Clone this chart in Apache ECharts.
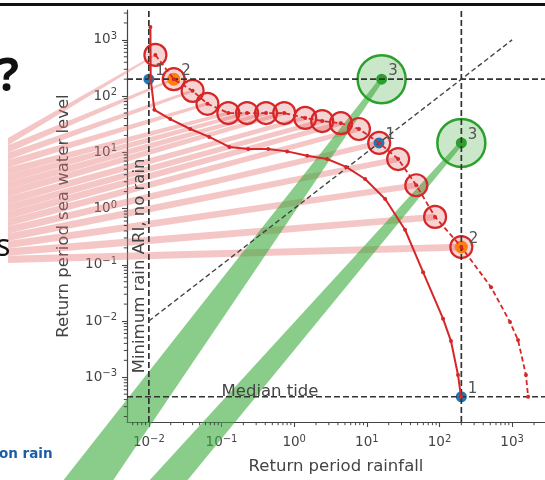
<!DOCTYPE html>
<html><head><meta charset="utf-8">
<script src="https://cdn.jsdelivr.net/npm/echarts@6/dist/echarts.min.js"></script>
<style>html,body{margin:0;padding:0;background:#fff}#c{width:545px;height:480px}</style>
</head><body><div id="c"></div>
<script>
// ---- data ----
const xTicks = [0.01, 0.1, 1, 10, 100, 1000];
const yTicks = [0.001, 0.01, 0.1, 1, 10, 100, 1000];
const xTitle = 'Return period rainfall';
const yTitle = 'Return period sea water level';
// big red circles, joined by a dashed line
const circleX = [0.0123, 0.022, 0.040, 0.064, 0.124, 0.225, 0.41, 0.73, 1.42, 2.43, 4.4, 7.8, 14.8, 27, 48, 87, 200];
const circleY = [540, 200, 124, 73, 50, 50, 50, 50, 41, 36, 33, 26, 14.7, 7.6, 2.6, 0.71, 0.207];
// continuation of the dashed curve below the last circle
const tailX = [513, 935, 1205, 1550, 1660];
const tailY = [0.040, 0.0096, 0.0046, 0.0011, 0.00045];
// solid red curve
const curveX = [0.0105, 0.0106, 0.0119, 0.0197, 0.0371, 0.0677, 0.128, 0.233, 0.439, 0.80, 1.51, 2.84, 5.19, 9.48, 17.9, 33.6, 59.5, 112, 144, 180, 198];
const curveY = [1700, 200, 57, 39, 26, 18.8, 12.5, 11.5, 11.5, 10.4, 8.7, 7.6, 5.5, 3.36, 1.48, 0.42, 0.074, 0.011, 0.0044, 0.0011, 0.00045];
// labelled points
const blueX = [0.01, 14.7, 200], blueY = [200, 14.7, 0.00045], blueLab = ['1', '1', '1'];
const orangeX = [0.022, 200], orangeY = [200, 0.207], orangeLab = ['2', '2'];
const greenX = [16, 200], greenY = [200, 14.7], greenLab = ['3', '3'];
// reference levels
const minRainRP = 0.01, designRP = 200, medianTide = 0.00045;
const diagFrom = 0.01, diagTo = 1000;
const medianText = 'Median tide';
const minRainText = 'Minimum rain ARI, no rain';

// ---- chart ----
const X_MIN = 0.005, X_MAX = 2835, Y_MIN = 1.6e-4, Y_MAX = 3400;
const FONT = 'DejaVu Sans', AX = '#444', TXT = '#444';
const zip = (a, b) => a.map((v, i) => [v, b[i]]);
function minorOf(lo, hi) {
  const out = [];
  for (let d = -5; d <= 4; d++) for (let k = 2; k <= 9; k++) {
    const v = +(k * Math.pow(10, d)).toPrecision(3);
    if (v > lo && v < hi) out.push(v);
  }
  return out;
}
function powLabel(v) {
  const e = Math.round(Math.log10(v));
  return '10{s|' + (e < 0 ? '\u2212' + (-e) : String(e)) + '}';
}
const rich = { s: { fontSize: 10, fontFamily: FONT, color: TXT, verticalAlign: 'top', lineHeight: 10 } };
const dash = { color: '#333', width: 1.7, type: [6, 3] };

function axisOf(isX, ticks, lo, hi) {
  return {
    type: 'log', logBase: 10, min: lo, max: hi,
    position: isX ? 'bottom' : 'left',
    name: isX ? xTitle : yTitle, nameLocation: 'middle', nameGap: isX ? 36 : 55,
    nameTextStyle: { fontFamily: FONT, fontSize: 16.5, color: TXT },
    axisLine: { show: true, onZero: false, lineStyle: { color: AX, width: 1.2 } },
    axisTick: { show: true, length: 5, customValues: ticks, lineStyle: { color: AX, width: 1.1 } },
    axisLabel: { customValues: ticks, formatter: powLabel, rich: rich, fontFamily: FONT, fontSize: 13.5, color: TXT, margin: isX ? 12 : 10, lineHeight: 17 },
    splitLine: { show: false }, minorTick: { show: false }
  };
}

const pointLabel = (names) => ({
  show: true, position: 'right', distance: 1, offset: [0, -8],
  formatter: p => names[p.dataIndex], fontFamily: FONT, fontSize: 15, color: '#555'
});

const chart = echarts.init(document.getElementById('c'));
chart.setOption({
  animation: false,
  grid: { left: 127, top: 10, right: 0, bottom: 58, containLabel: false, outerBoundsMode: 'none' },
  xAxis: axisOf(true, xTicks, X_MIN, X_MAX),
  yAxis: axisOf(false, yTicks, Y_MIN, Y_MAX),
  series: [
    { type: 'line', silent: true, symbol: 'none', lineStyle: dash, data: [[minRainRP, Y_MIN], [minRainRP, Y_MAX]] },
    { type: 'line', silent: true, symbol: 'none', lineStyle: dash, data: [[designRP, Y_MIN], [designRP, Y_MAX]] },
    { type: 'line', silent: true, symbol: 'none', lineStyle: dash, data: [[X_MIN, designRP], [X_MAX, designRP]] },
    { type: 'line', silent: true, symbol: 'none', lineStyle: dash, data: [[X_MIN, medianTide], [X_MAX, medianTide]] },
    { type: 'line', silent: true, symbol: 'none', lineStyle: { color: '#444', width: 1.4, type: [5, 3] }, data: [[diagFrom, diagFrom], [diagTo, diagTo]] },
    { type: 'scatter', silent: true, symbolSize: 22, data: zip(circleX, circleY),
      itemStyle: { color: 'rgba(214,39,40,0.2)', borderColor: '#d62728', borderWidth: 2.2, opacity: 1 } },
    { type: 'scatter', silent: true, symbolSize: 11, data: zip(blueX, blueY), itemStyle: { color: '#1f77b4', opacity: 1 }, label: pointLabel(blueLab) },
    { type: 'scatter', silent: true, symbolSize: 13, data: zip(orangeX, orangeY), itemStyle: { color: '#ff7f0e', opacity: 1 }, label: pointLabel(orangeLab) },
    { type: 'line', silent: true, symbol: 'circle', symbolSize: 4, showSymbol: true, data: zip(curveX, curveY),
      lineStyle: { color: '#d62728', width: 2 }, itemStyle: { color: '#d62728' } },
    { type: 'line', silent: true, symbol: 'circle', symbolSize: 4, showSymbol: true, data: zip(circleX.concat(tailX), circleY.concat(tailY)),
      lineStyle: { color: '#d62728', width: 1.8, type: [5, 3] }, itemStyle: { color: '#d62728' } },
    { type: 'scatter', silent: true, symbolSize: 48, data: zip(greenX, greenY),
      itemStyle: { color: 'rgba(44,160,44,0.25)', borderColor: '#2ca02c', borderWidth: 2.5, opacity: 1 } },
    { type: 'scatter', silent: true, symbolSize: 11, data: zip(greenX, greenY), itemStyle: { color: '#2ca02c', opacity: 1 }, label: pointLabel(greenLab) }
  ]
});

// ---- overlays placed with the chart's own scales ----
const P = (x, y) => chart.convertToPixel({ xAxisIndex: 0, yAxisIndex: 0 }, [x, y]);
const g = [];
// minor (2..9 x 10^n) log ticks
minorOf(X_MIN, X_MAX).forEach(v => {
  const p = P(v, Y_MIN);
  g.push({ type: 'line', silent: true, z: 5, shape: { x1: p[0], y1: p[1], x2: p[0], y2: p[1] + 3.2 }, style: { stroke: AX, lineWidth: 1 } });
});
minorOf(Y_MIN, Y_MAX).forEach(v => {
  const p = P(X_MIN, v);
  g.push({ type: 'line', silent: true, z: 5, shape: { x1: p[0], y1: p[1], x2: p[0] - 3.2, y2: p[1] }, style: { stroke: AX, lineWidth: 1 } });
});
// pink fan from the slide's side box to each circle
const baseTop = 138, baseBot = 263, baseX = 8, n = circleX.length;
for (let i = 0; i < n; i++) {
  const c = P(circleX[i], circleY[i]);
  const t = baseTop + (baseBot - baseTop) * i / n, b = baseTop + (baseBot - baseTop) * (i + 1) / n;
  const hw = 1 + 2.5 * i / n;
  g.push({ type: 'polygon', silent: true, z: 1, shape: { points: [[baseX, t], [c[0], c[1] - hw], [c[0], c[1] + hw], [baseX, b]] },
    style: { fill: 'rgba(230,120,120,0.42)' } });
}
// green bands to the green points
const greenBases = [[62, 112], [148, 186]];
greenX.forEach((x, i) => {
  const c = P(x, greenY[i]);
  g.push({ type: 'polygon', silent: true, z: 1, shape: { points: [[greenBases[i][0], 482], [c[0] - 2, c[1] - 1], [c[0] + 2, c[1] + 1], [greenBases[i][1], 482]] },
    style: { fill: 'rgba(60,170,60,0.6)' } });
});
const mt = P(0.1, medianTide);
g.push({ type: 'text', silent: true, z: 3, x: mt[0], y: mt[1] + 3,
  style: { text: medianText, fontFamily: FONT, fontSize: 16.5, fill: TXT, align: 'left', verticalAlign: 'bottom' } });
const mr = P(minRainRP, 0.001);
g.push({ type: 'text', silent: true, z: 3, x: mr[0] - 1, y: mr[1] - 4, rotation: Math.PI / 2,
  style: { text: minRainText, fontFamily: FONT, fontSize: 16.5, fill: TXT, align: 'left', verticalAlign: 'bottom' } });
// slide elements around the chart
g.push({ type: 'rect', silent: true, z: 3, shape: { x: 0, y: 3, width: 545, height: 3 }, style: { fill: '#111' } });
g.push({ type: 'text', silent: true, z: 3, x: -3, y: 55, style: { text: '?', fontFamily: 'Noto Sans', fontWeight: 'bold', fontSize: 46, fill: '#111', align: 'left', verticalAlign: 'top' } });
g.push({ type: 'text', silent: true, z: 3, x: -4, y: 232, style: { text: 's', fontFamily: 'Noto Sans', fontSize: 30, fill: '#111', align: 'left', verticalAlign: 'top' } });
g.push({ type: 'text', silent: true, z: 3, x: -1, y: 447, style: { text: 'on rain', fontFamily: 'DejaVu Sans', fontWeight: 'bold', fontSize: 13.5, fill: '#1a5ea8', align: 'left', verticalAlign: 'top' } });
chart.setOption({ graphic: g });
</script></body></html>
